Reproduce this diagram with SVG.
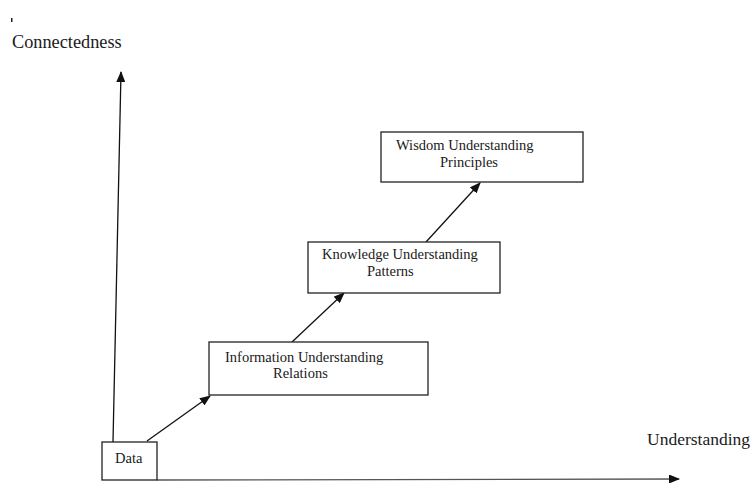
<svg xmlns="http://www.w3.org/2000/svg" width="752" height="483" viewBox="0 0 752 483">
  <style>
    .box { fill: #ffffff; stroke: #222222; stroke-width: 1.3; }
    .lbl { font-family: "Liberation Serif", "Times New Roman", serif; font-size: 14.5px; fill: #1a1a1a; }
    .axis-lbl { font-family: "Liberation Serif", "Times New Roman", serif; font-size: 17.5px; fill: #1a1a1a; }
    .conn { stroke: #111111; stroke-width: 1.3; fill: none; marker-end: url(#head); }
  </style>
  <defs>
    <marker id="head" markerWidth="11" markerHeight="9" refX="10" refY="4.5" orient="auto" markerUnits="userSpaceOnUse">
      <path d="M0,0 L11,4.5 L0,9 Z" fill="#111111"/>
    </marker>
  </defs>
  <rect width="752" height="483" fill="#ffffff"/>

  <!-- small mark above the vertical axis label -->
  <rect x="11" y="18" width="1.5" height="4" fill="#222222"/>

  <text class="axis-lbl" x="12" y="48" style="font-size:18.3px">Connectedness</text>
  <text class="axis-lbl" x="647" y="445">Understanding</text>

  <g id="connectors">
    <!-- axes -->
    <line class="conn" x1="113" y1="442" x2="121" y2="72"/>
    <line class="conn" x1="157" y1="480" x2="679" y2="479" style="stroke:#555555"/>
    <!-- steps -->
    <line class="conn" x1="147" y1="441" x2="210" y2="396"/>
    <line class="conn" x1="292" y1="342" x2="344" y2="293"/>
    <line class="conn" x1="426" y1="242" x2="480" y2="183"/>
  </g>

  <g id="data">
    <rect class="box" x="102" y="442" width="55" height="38"/>
    <text class="lbl" x="115" y="463">Data</text>
  </g>

  <g id="information">
    <rect class="box" x="209" y="342" width="219" height="53"/>
    <text class="lbl" x="225" y="362">Information Understanding</text>
    <text class="lbl" x="273" y="378">Relations</text>
  </g>

  <g id="knowledge">
    <rect class="box" x="308" y="242" width="192" height="51"/>
    <text class="lbl" x="322" y="259">Knowledge Understanding</text>
    <text class="lbl" x="367" y="276">Patterns</text>
  </g>

  <g id="wisdom">
    <rect class="box" x="381" y="132" width="202" height="50"/>
    <text class="lbl" x="396" y="150">Wisdom Understanding</text>
    <text class="lbl" x="440" y="167">Principles</text>
  </g>
</svg>
